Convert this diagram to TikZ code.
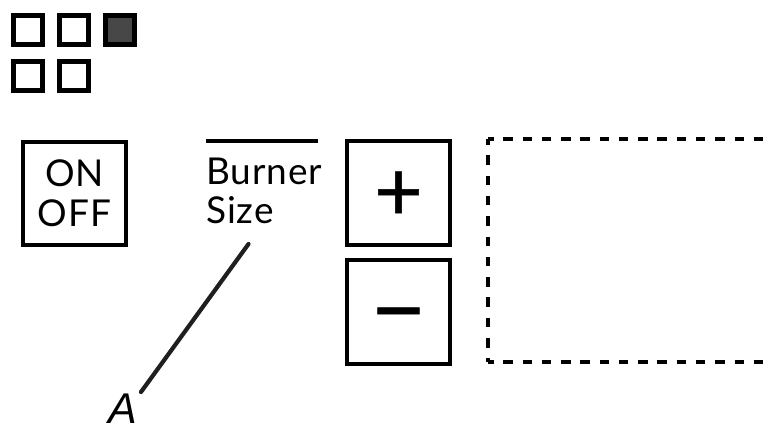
\documentclass[tikz,border=0pt]{standalone}
\usepackage{fontspec}
\setmainfont[LetterSpace=2.5]{Lato}
\newfontfamily\signfont[FakeBold=0.6]{Lato}
\newfontfamily\labelfont{Liberation Sans}
\tikzset{
  smallbox/.style={draw=black,line width=4.2pt,minimum size=29pt,inner sep=0pt,outer sep=0pt},
  bigbox/.style={draw=black,line width=4pt,minimum size=103.5pt,inner sep=0pt,outer sep=0pt,align=center},
  boxtext/.style={font=\fontsize{37}{40}\selectfont},
  signtext/.style={font=\signfont\fontsize{84}{84}\selectfont},
  minustext/.style={font=\signfont\fontsize{97}{97}\selectfont},
  topline/.style={draw=black,line width=4pt},
  hdash/.style={draw=black,line width=3.6pt,dash pattern=on 9.5pt off 9.77pt,dash phase=4pt},
  vdash/.style={draw=black,line width=3.6pt,dash pattern=on 9.5pt off 10.8pt,dash phase=4pt},
  leader/.style={draw=black!88,line width=4.2pt,line cap=round}
}
\begin{document}
\begin{tikzpicture}[x=1pt,y=-1pt]
\useasboundingbox (0,0) rectangle (773,425);
\node[smallbox] (s1) at (28,30) {};
\node[smallbox] (s2) at (74,30) {};
\node[smallbox,fill=black!72] (s3) at (120,30) {};
\node[smallbox] (s4) at (28,76) {};
\node[smallbox] (s5) at (74,76) {};
\node[bigbox,boxtext] (onoff) at (74.5,193.5) {ON\\[0pt]OFF};
\node[bigbox,signtext] (plus) at (398.5,193) {\smash{\raisebox{-27.5pt}{+}}};
\node[bigbox,minustext] (minus) at (398.5,312) {\smash{\raisebox{-31.5pt}{−}}};
\coordinate (barL) at (206,141);
\coordinate (barR) at (318,141);
\draw[topline] (barL) -- (barR);
\node[anchor=north west,inner sep=0pt,align=left,font=\fontsize{37}{39.5}\selectfont] (burner) at (206,157.5) {Burner\\Size};
\coordinate (dTL) at (488,139);
\coordinate (dBL) at (488,362);
\coordinate (dTR) at (790,139);
\coordinate (dBR) at (790,362);
\draw[hdash] (dTL) -- (dTR);
\draw[hdash] (dBL) -- (dBR);
\draw[vdash] (dTL) -- (dBL);
\node[anchor=base,inner sep=0pt,font=\labelfont\itshape\fontsize{43}{43}\selectfont] (letterA) at (123,423.5) {A};
\coordinate (leadTop) at (248.5,244);
\coordinate (leadEnd) at (141,392);
\draw[leader] (leadTop) -- (leadEnd);
\end{tikzpicture}
\end{document}
